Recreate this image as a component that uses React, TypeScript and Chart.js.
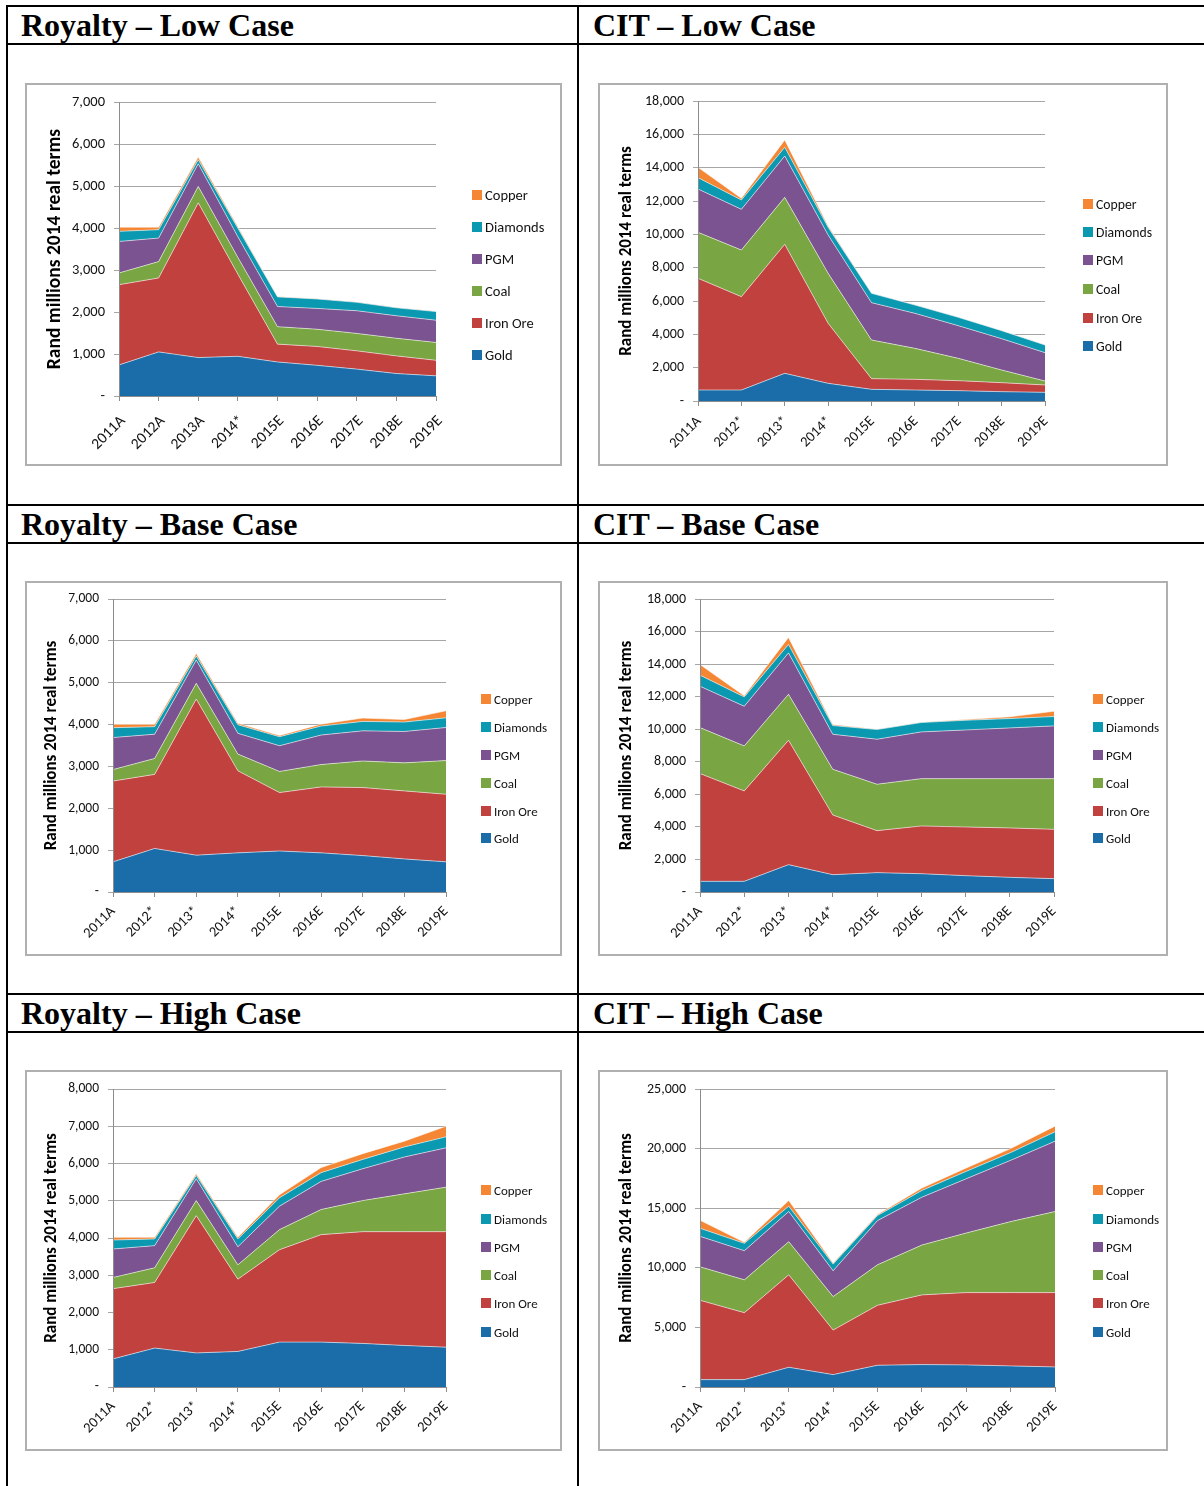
import React, { useEffect, useRef } from 'react';
import { Chart, registerables } from 'chart.js';

Chart.register(...registerables);

// ---------- DATA ----------
const SERIES = ['Gold', 'Iron Ore', 'Coal', 'PGM', 'Diamonds', 'Copper'];
const COLORS = ['#1B6DAA', '#C1413F', '#7AA543', '#7B5390', '#0A99B0', '#F58634'];
const LEGEND_ORDER = ['Copper', 'Diamonds', 'PGM', 'Coal', 'Iron Ore', 'Gold'];

const royaltyLowYears = ['2011A', '2012A', '2013A', '2014*', '2015E', '2016E', '2017E', '2018E', '2019E'];
const otherYears = ['2011A', '2012*', '2013*', '2014*', '2015E', '2016E', '2017E', '2018E', '2019E'];

const Y_TITLE = 'Rand millions 2014 real terms';

// Royalty – Low Case
const rlGold = [740, 1050, 915, 945, 810, 730, 640, 535, 480];
const rlIron = [1910, 1760, 3685, 1955, 425, 450, 435, 420, 370];
const rlCoal = [280, 390, 390, 400, 415, 410, 415, 420, 425];
const rlPgm = [750, 560, 540, 490, 480, 495, 540, 535, 530];
const rlDiamonds = [240, 200, 95, 205, 230, 225, 200, 190, 205];
const rlCopper = [100, 60, 65, 35, 10, 8, 8, 8, 8];

// CIT – Low Case
const clGold = [660, 660, 1660, 1060, 700, 660, 620, 560, 520];
const clIron = [6700, 5600, 7740, 3600, 640, 640, 600, 540, 440];
const clCoal = [2760, 2800, 2820, 3000, 2320, 1860, 1340, 760, 240];
const clPgm = [2600, 2440, 2480, 2300, 2240, 2100, 1960, 1880, 1700];
const clDiamonds = [680, 560, 520, 460, 560, 500, 500, 480, 460];
const clCopper = [620, 100, 440, 80, 10, 10, 10, 10, 10];

// Royalty – Base Case
const rbGold = [720, 1040, 880, 935, 980, 935, 870, 790, 720];
const rbIron = [1930, 1770, 3730, 1960, 1395, 1575, 1625, 1625, 1615];
const rbCoal = [275, 380, 375, 400, 505, 535, 635, 670, 805];
const rbPgm = [765, 580, 555, 495, 615, 705, 720, 750, 790];
const rbDiamonds = [235, 180, 100, 205, 215, 215, 225, 225, 230];
const rbCopper = [80, 55, 60, 35, 30, 45, 80, 60, 170];

// CIT – Base Case
const cbGold = [655, 655, 1680, 1065, 1190, 1125, 1005, 900, 820];
const cbIron = [6620, 5555, 7640, 3665, 2580, 2930, 2990, 3035, 3030];
const cbCoal = [2825, 2765, 2830, 2810, 2850, 2910, 2970, 3030, 3115];
const cbPgm = [2540, 2435, 2540, 2150, 2765, 2870, 2990, 3115, 3240];
const cbDiamonds = [680, 575, 515, 535, 595, 575, 595, 575, 575];
const cbCopper = [655, 65, 430, 60, 20, 20, 45, 105, 325];

// Royalty – High Case
const rhGold = [755, 1045, 915, 955, 1205, 1205, 1170, 1115, 1070];
const rhIron = [1885, 1760, 3685, 1940, 2480, 2885, 3000, 3055, 3100];
const rhCoal = [300, 395, 405, 385, 540, 675, 835, 1015, 1195];
const rhPgm = [765, 595, 585, 485, 630, 755, 855, 990, 1055];
const rhDiamonds = [240, 180, 90, 210, 225, 235, 250, 270, 295];
const rhCopper = [75, 45, 45, 45, 80, 135, 155, 155, 285];

// CIT – High Case
const chGold = [620, 620, 1655, 1040, 1825, 1880, 1855, 1770, 1685];
const chIron = [6655, 5615, 7755, 3735, 5030, 5845, 6065, 6150, 6235];
const chCoal = [2810, 2755, 2780, 2810, 3400, 4185, 5000, 5955, 6800];
const chPgm = [2555, 2445, 2530, 2160, 3705, 4015, 4550, 5140, 5900];
const chDiamonds = [675, 615, 450, 565, 420, 565, 620, 650, 785];
const chCopper = [675, 85, 475, 85, 85, 200, 280, 335, 480];

// ---------- LAYOUT ----------
const FONT = 'Carlito, Calibri, Lato, "Open Sans", sans-serif';

type Panel = {
  header: string;
  hx: number;
  hBase: number;
  frame: [number, number, number, number]; // x, y, w, h (absolute)
  plot: [number, number, number, number]; // left, top, right, bottom (relative to frame)
  titleX: number;
  titleSize: number;
  yTickSize: number;
  xTickSize: number;
  xLabelOffset: number;
  xLabelPad: number;
  yMax: number;
  yStep: number;
  labels: string[];
  data: number[][];
  legendX: number;
  legendY: number[];
  legendSize: number;
};

const PANELS: Panel[] = [
  {
    header: 'Royalty \u2013 Low Case', hx: 21, hBase: 36,
    frame: [25, 83, 537, 383], plot: [94, 19, 411, 313],
    titleX: 30, titleSize: 19.5, yTickSize: 14.5, xTickSize: 15.5, xLabelOffset: 4, xLabelPad: 11,
    yMax: 7000, yStep: 1000,
    labels: royaltyLowYears,
    data: [rlGold, rlIron, rlCoal, rlPgm, rlDiamonds, rlCopper],
    legendX: 472, legendY: [195, 227, 259, 291, 323, 355], legendSize: 14.5,
  },
  {
    header: 'CIT \u2013 Low Case', hx: 593, hBase: 36,
    frame: [598, 83, 570, 383], plot: [100, 18, 447, 318],
    titleX: 29, titleSize: 17, yTickSize: 14, xTickSize: 14.5, xLabelOffset: 1, xLabelPad: 7,
    yMax: 18000, yStep: 2000,
    labels: otherYears,
    data: [clGold, clIron, clCoal, clPgm, clDiamonds, clCopper],
    legendX: 1083, legendY: [204, 232, 260, 289, 318, 346], legendSize: 13.7,
  },
  {
    header: 'Royalty \u2013 Base Case', hx: 21, hBase: 535,
    frame: [25, 581, 537, 375], plot: [88, 18, 421, 311],
    titleX: 27, titleSize: 17, yTickSize: 13.5, xTickSize: 14.5, xLabelOffset: 0, xLabelPad: 6,
    yMax: 7000, yStep: 1000,
    labels: otherYears,
    data: [rbGold, rbIron, rbCoal, rbPgm, rbDiamonds, rbCopper],
    legendX: 481, legendY: [699, 727, 755, 783, 811, 838], legendSize: 13,
  },
  {
    header: 'CIT \u2013 Base Case', hx: 593, hBase: 535,
    frame: [598, 581, 570, 375], plot: [102, 18, 456, 311],
    titleX: 29, titleSize: 17, yTickSize: 14, xTickSize: 14.5, xLabelOffset: 0, xLabelPad: 6,
    yMax: 18000, yStep: 2000,
    labels: otherYears,
    data: [cbGold, cbIron, cbCoal, cbPgm, cbDiamonds, cbCopper],
    legendX: 1093, legendY: [699, 727, 755, 783, 811, 838], legendSize: 13,
  },
  {
    header: 'Royalty \u2013 High Case', hx: 21, hBase: 1024,
    frame: [25, 1070, 537, 381], plot: [88, 19, 421, 317],
    titleX: 27, titleSize: 17, yTickSize: 13.5, xTickSize: 14.5, xLabelOffset: 0, xLabelPad: 6,
    yMax: 8000, yStep: 1000,
    labels: otherYears,
    data: [rhGold, rhIron, rhCoal, rhPgm, rhDiamonds, rhCopper],
    legendX: 481, legendY: [1190, 1219, 1247, 1275, 1303, 1332], legendSize: 13,
  },
  {
    header: 'CIT \u2013 High Case', hx: 593, hBase: 1024,
    frame: [598, 1070, 570, 381], plot: [102, 19, 457, 317],
    titleX: 29, titleSize: 17, yTickSize: 14, xTickSize: 14.5, xLabelOffset: 0, xLabelPad: 6,
    yMax: 25000, yStep: 5000,
    labels: otherYears,
    data: [chGold, chIron, chCoal, chPgm, chDiamonds, chCopper],
    legendX: 1093, legendY: [1190, 1219, 1247, 1275, 1303, 1332], legendSize: 13,
  },
];

const H_LINES = [5, 43, 504, 542, 993, 1031];
const V_LINES = [6, 577];

const axisOverlay = {
  id: 'axisOverlay',
  afterDatasetsDraw(chart: any) {
    const { ctx, chartArea: a } = chart;
    ctx.save();
    ctx.strokeStyle = '#8c8c8c';
    ctx.lineWidth = 1;
    ctx.beginPath();
    ctx.moveTo(Math.round(a.left) + 0.5, a.top);
    ctx.lineTo(Math.round(a.left) + 0.5, a.bottom);
    ctx.moveTo(a.left, Math.round(a.bottom) + 0.5);
    ctx.lineTo(a.right, Math.round(a.bottom) + 0.5);
    ctx.stroke();
    ctx.restore();
  },
};

function AreaChart({ p }: { p: Panel }) {
  const ref = useRef<HTMLCanvasElement>(null);
  useEffect(() => {
    const [, , fw, fh] = p.frame;
    const [pl, pt, pr, pb] = p.plot;
    const padLeft = p.titleX - 0.6 * p.titleSize;
    const padBottom = 4;
    const chart = new Chart(ref.current as HTMLCanvasElement, {
      type: 'line',
      data: {
        labels: p.labels,
        datasets: SERIES.map((name, i) => ({
          label: name,
          data: p.data[i],
          backgroundColor: COLORS[i],
          borderColor: 'rgba(255,255,255,0.55)',
          borderWidth: 1,
          fill: i === 0 ? 'origin' : '-1',
          pointRadius: 0,
          tension: 0,
        })),
      },
      options: {
        animation: false,
        responsive: false,
        devicePixelRatio: 1,
        layout: { padding: { left: padLeft, top: pt, right: fw - pr, bottom: padBottom } },
        plugins: { legend: { display: false }, tooltip: { enabled: false } },
        scales: {
          x: {
            offset: false,
            grid: { drawOnChartArea: false, drawTicks: true, tickLength: 5, color: '#8c8c8c' },
            border: { display: true, color: '#8c8c8c' },
            ticks: {
              minRotation: 45, maxRotation: 45, autoSkip: false,
              padding: p.xLabelPad, labelOffset: p.xLabelOffset,
              color: '#111', font: { family: FONT, size: p.xTickSize },
            },
            afterFit: (s: any) => { s.height = fh - pb - padBottom; },
          },
          y: {
            stacked: true,
            min: 0,
            max: p.yMax,
            ticks: {
              stepSize: p.yStep, padding: 9, color: '#111',
              font: { family: FONT, size: p.yTickSize },
              callback: (v: any) => (Number(v) === 0 ? '-' : Number(v).toLocaleString('en-US')),
            },
            grid: { color: '#a6a6a6', tickLength: 5, lineWidth: 1 },
            border: { display: true, color: '#8c8c8c' },
            title: {
              display: true, text: Y_TITLE, color: '#000', padding: 0,
              font: { family: FONT, size: p.titleSize, weight: 'bold' },
            },
            afterFit: (s: any) => { s.width = pl - padLeft; },
          },
        },
      } as any,
      plugins: [axisOverlay],
    });
    return () => chart.destroy();
  }, [p]);
  const [fx, fy, fw, fh] = p.frame;
  return (
    <>
      <canvas
        ref={ref}
        width={fw}
        height={fh}
        style={{ position: 'absolute', left: fx, top: fy, width: fw, height: fh }}
      />
      <div
        style={{
          position: 'absolute', left: fx, top: fy, width: fw, height: fh,
          border: '2px solid #b0b0b0', boxSizing: 'border-box', pointerEvents: 'none',
        }}
      />
    </>
  );
}

function Legend({ p }: { p: Panel }) {
  return (
    <>
      {LEGEND_ORDER.map((name, i) => {
        const color = COLORS[SERIES.indexOf(name)];
        const cy = p.legendY[i];
        return (
          <div
            key={name}
            style={{
              position: 'absolute', left: p.legendX, top: cy - 10, height: 20,
              display: 'flex', alignItems: 'center', whiteSpace: 'nowrap',
              fontFamily: FONT, fontSize: p.legendSize, color: '#111',
            }}
          >
            <span style={{ display: 'inline-block', width: 10, height: 10, background: color, marginRight: 3 }} />
            <span>{name}</span>
          </div>
        );
      })}
    </>
  );
}

export default function App() {
  return (
    <div
      style={{
        position: 'absolute', left: 0, top: 0, width: 1204, height: 1486,
        overflow: 'hidden', background: '#fff',
      }}
    >
      {H_LINES.map((y) => (
        <div key={'h' + y} style={{ position: 'absolute', left: 6, top: y, width: 1198, height: 2, background: '#000' }} />
      ))}
      {V_LINES.map((x) => (
        <div key={'v' + x} style={{ position: 'absolute', left: x, top: 5, width: 2, height: 1481, background: '#000' }} />
      ))}
      {PANELS.map((p) => (
        <div
          key={p.header}
          style={{
            position: 'absolute', left: p.hx, top: p.hBase - 27, height: 32, lineHeight: '32px',
            fontFamily: '"Liberation Serif", "Times New Roman", serif', fontWeight: 'bold',
            fontSize: 32, color: '#000', whiteSpace: 'nowrap',
          }}
        >
          {p.header}
        </div>
      ))}
      {PANELS.map((p) => (
        <AreaChart key={'c' + p.header} p={p} />
      ))}
      {PANELS.map((p) => (
        <Legend key={'l' + p.header} p={p} />
      ))}
    </div>
  );
}
